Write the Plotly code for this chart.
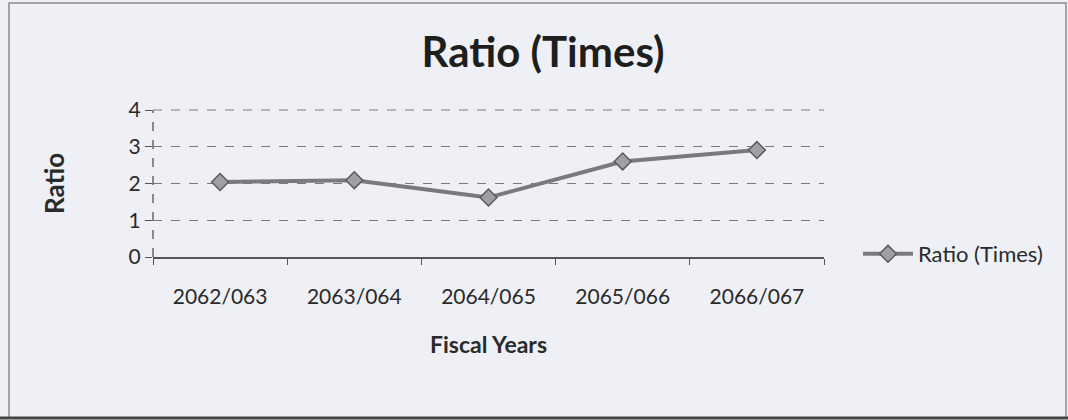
import plotly.graph_objects as go

categories = ["2062/063", "2063/064", "2064/065", "2065/066", "2066/067"]
ratio_values = [2.04, 2.09, 1.62, 2.6, 2.91]
y_ticks = [0, 1, 2, 3, 4]
series_name = "Ratio (Times)"

W, H = 1068, 420
L, R, T, B = 153, 824, 110, 257

def px_x(p):
    return (p - L) / (R - L)

def px_y(p):
    return (B - p) / (B - T)

fig = go.Figure()
fig.add_trace(go.Scatter(
    x=categories, y=ratio_values, mode="lines+markers", name=series_name,
    line=dict(color="#7a7a7e", width=4),
    marker=dict(symbol="diamond", size=13, color="#a0a0a4",
                line=dict(color="#5a5a5e", width=1.5)),
))

font = "Lato, 'Open Sans', sans-serif"
fig.update_layout(
    width=W, height=H,
    margin=dict(l=L, r=W - R, t=T, b=H - B),
    paper_bgcolor="#eef0f5", plot_bgcolor="#eef0f5",
    font=dict(family=font, color="#2a2a2a", size=20),
    title=dict(text="<b>Ratio (Times)</b>", xref="container", x=543 / W, xanchor="center",
               yref="container", y=1 - 52 / H, yanchor="middle",
               font=dict(size=42, color="#1e1e1e")),
    showlegend=True,
    legend=dict(x=px_x(858), y=px_y(254), xanchor="left", yanchor="middle",
                bgcolor="rgba(0,0,0,0)", font=dict(size=22), itemwidth=50),
    xaxis=dict(type="category", range=[-0.5, 4.5], tickson="boundaries",
               ticks="outside", ticklen=6, tickcolor="#555",
               showline=True, linecolor="#555", linewidth=1.5, showgrid=False,
               tickfont=dict(size=21), ticklabelstandoff=20,
               title=dict(text="<b>Fiscal Years</b>", font=dict(size=23), standoff=30)),
    yaxis=dict(range=[0, 4], tickvals=y_ticks, ticks="outside", ticklen=7,
               tickcolor="#555", showline=False,
               showgrid=True, gridcolor="#7a7a7a", griddash="dash", gridwidth=1,
               zeroline=False, tickfont=dict(size=21),
               title=dict(text="<b>Ratio</b>", font=dict(size=26), standoff=56)),
    shapes=[
        dict(type="rect", xref="paper", yref="paper",
             x0=px_x(9), x1=px_x(1066), y0=px_y(418), y1=px_y(3),
             line=dict(color="#8a8a8a", width=1.5), fillcolor="rgba(0,0,0,0)",
             layer="below"),
        dict(type="line", xref="paper", yref="paper",
             x0=px_x(0), x1=px_x(1068), y0=px_y(418), y1=px_y(418),
             line=dict(color="#444", width=3)),
        dict(type="line", xref="paper", yref="paper", x0=0, x1=0, y0=0, y1=1,
             line=dict(color="#444", width=1.2, dash="dash")),
        dict(type="line", xref="paper", yref="paper", x0=0, x1=1, y0=1, y1=1,
             line=dict(color="#7a7a7a", width=1, dash="dash")),
    ],
)

fig.write_html("out.html", config={"displayModeBar": False},
               post_script="document.body.style.margin='0';")
